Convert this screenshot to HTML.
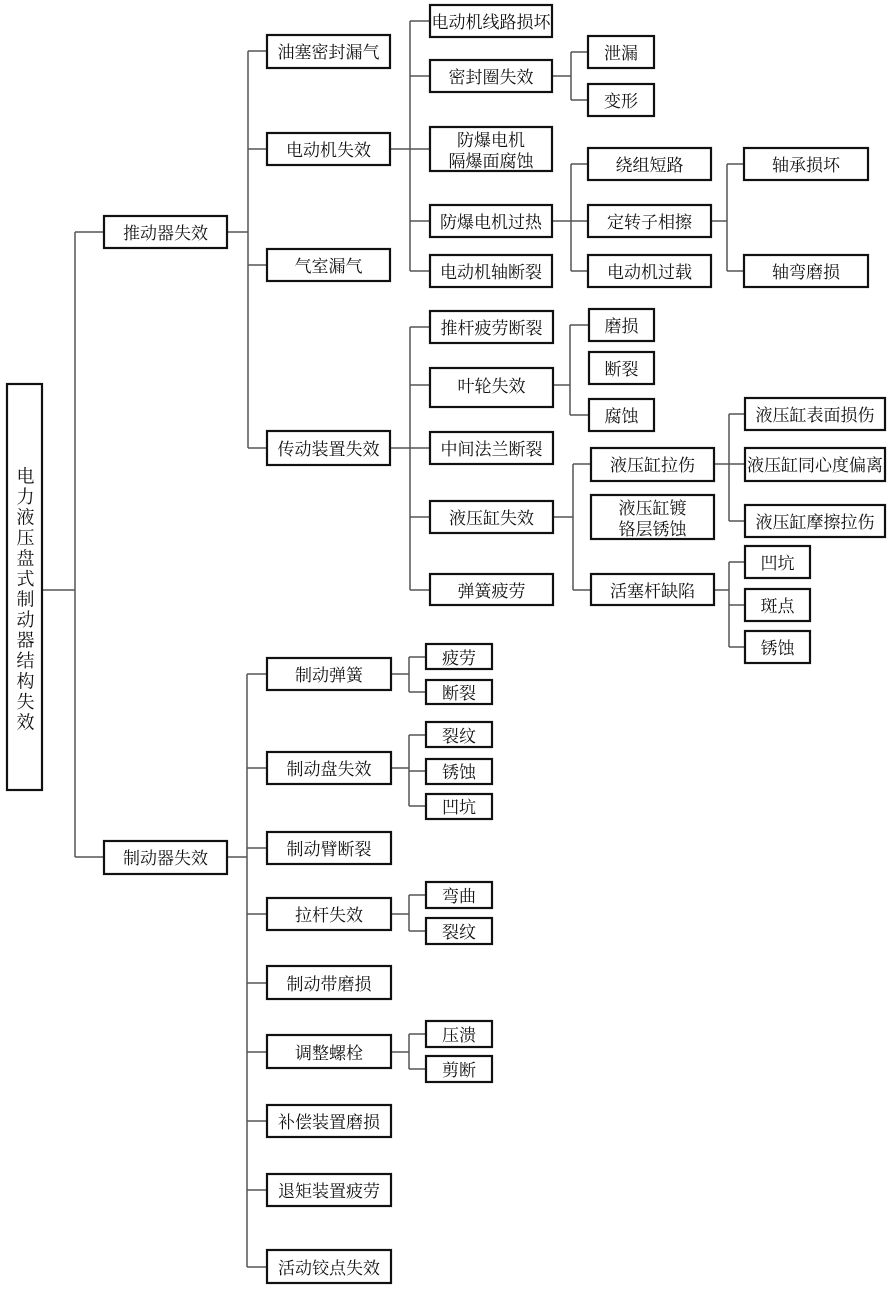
<!DOCTYPE html>
<html><head><meta charset="utf-8"><style>
html,body{margin:0;padding:0;background:#fff}
svg{display:block}
text{font-family:"Liberation Serif","Noto Serif CJK SC",serif;font-size:17px;fill:#111;text-anchor:middle;dominant-baseline:central;transform:translateY(1.5px)}
rect{fill:#fff;stroke:#111;stroke-width:2.2}
path{fill:none;stroke:#555;stroke-width:1.5}
</style></head><body>
<svg width="890" height="1289" viewBox="0 0 890 1289" xmlns="http://www.w3.org/2000/svg">
<path d="M42 590H75M75 232V857M75 232H104M75 857H104"/>
<path d="M227 232H248M248 51V448M248 51H267M248 149H267M248 265H267M248 448H267"/>
<path d="M390 149H410M410 21V271M410 21H430M410 76H430M410 149H430M410 221H430M410 271H430"/>
<path d="M552 76H571M571 52V100M571 52H588M571 100H588"/>
<path d="M552 221H571M571 164V271M571 164H588M571 221H588M571 271H588"/>
<path d="M711 221H727M727 164V271M727 164H744M727 271H744"/>
<path d="M390 448H410M410 327V590M410 327H430M410 385H430M410 448H430M410 517H430M410 590H430"/>
<path d="M553 385H570M570 325V415M570 325H589M570 415H589"/>
<path d="M553 517H573M573 464V590M573 464H591M573 590H591"/>
<path d="M714 464H729M729 414V521M729 414H745M729 464H745M729 521H745"/>
<path d="M714 590H729M729 562V647M729 562H745M729 605H745M729 647H745"/>
<path d="M227 857H247M247 674V1267M247 674H267M247 768H267M247 848H267M247 914H267M247 983H267M247 1052H267M247 1121H267M247 1190H267M247 1267H267"/>
<path d="M391 674H409M409 657V692M409 657H426M409 692H426"/>
<path d="M391 768H409M409 735V806M409 735H426M409 771H426M409 806H426"/>
<path d="M391 914H409M409 895V931M409 895H426M409 931H426"/>
<path d="M391 1052H409M409 1034V1069M409 1034H426M409 1069H426"/>
<rect x="7" y="384" width="35" height="406"/>
<text x="24.5" y="600" style="writing-mode:vertical-rl;glyph-orientation-vertical:0;letter-spacing:2.5px;font-size:18px;transform:none">电力液压盘式制动器结构失效</text>
<rect x="104" y="216" width="123" height="32"/><text x="165.5" y="232">推动器失效</text>
<rect x="104" y="841" width="123" height="33"/><text x="165.5" y="857">制动器失效</text>
<rect x="267" y="35" width="123" height="33"/><text x="328.5" y="51">油塞密封漏气</text>
<rect x="267" y="133" width="123" height="32"/><text x="328.5" y="149">电动机失效</text>
<rect x="267" y="249" width="123" height="32"/><text x="328.5" y="265">气室漏气</text>
<rect x="267" y="431" width="123" height="34"/><text x="328.5" y="448">传动装置失效</text>
<rect x="430" y="5" width="122" height="32"/><text x="491" y="21">电动机线路损坏</text>
<rect x="430" y="60" width="122" height="32"/><text x="491" y="76">密封圈失效</text>
<rect x="430" y="127" width="122" height="44"/><text x="491" y="139">防爆电机</text><text x="491" y="160">隔爆面腐蚀</text>
<rect x="430" y="205" width="122" height="32"/><text x="491" y="221">防爆电机过热</text>
<rect x="430" y="255" width="122" height="32"/><text x="491" y="271">电动机轴断裂</text>
<rect x="588" y="36" width="66" height="32"/><text x="621" y="52">泄漏</text>
<rect x="588" y="84" width="66" height="32"/><text x="621" y="100">变形</text>
<rect x="588" y="148" width="123" height="32"/><text x="649.5" y="164">绕组短路</text>
<rect x="588" y="205" width="123" height="32"/><text x="649.5" y="221">定转子相擦</text>
<rect x="588" y="255" width="123" height="32"/><text x="649.5" y="271">电动机过载</text>
<rect x="744" y="148" width="124" height="32"/><text x="806" y="164">轴承损坏</text>
<rect x="744" y="255" width="124" height="32"/><text x="806" y="271">轴弯磨损</text>
<rect x="430" y="311" width="123" height="32"/><text x="491.5" y="327">推杆疲劳断裂</text>
<rect x="430" y="368" width="123" height="39"/><text x="491.5" y="385">叶轮失效</text>
<rect x="430" y="432" width="123" height="32"/><text x="491.5" y="448">中间法兰断裂</text>
<rect x="430" y="501" width="123" height="32"/><text x="491.5" y="517">液压缸失效</text>
<rect x="430" y="574" width="123" height="31"/><text x="491.5" y="590">弹簧疲劳</text>
<rect x="589" y="309" width="65" height="32"/><text x="621.5" y="325">磨损</text>
<rect x="589" y="352" width="65" height="32"/><text x="621.5" y="368">断裂</text>
<rect x="589" y="399" width="65" height="32"/><text x="621.5" y="415">腐蚀</text>
<rect x="591" y="448" width="123" height="33"/><text x="652.5" y="464">液压缸拉伤</text>
<rect x="591" y="495" width="123" height="44"/><text x="652.5" y="507">液压缸镀</text><text x="652.5" y="528">铬层锈蚀</text>
<rect x="591" y="574" width="123" height="31"/><text x="652.5" y="590">活塞杆缺陷</text>
<rect x="745" y="398" width="140" height="32"/><text x="815" y="414">液压缸表面损伤</text>
<rect x="745" y="448" width="140" height="33"/><text x="815" y="464">液压缸同心度偏离</text>
<rect x="745" y="505" width="140" height="32"/><text x="815" y="521">液压缸摩擦拉伤</text>
<rect x="745" y="546" width="65" height="32"/><text x="777.5" y="562">凹坑</text>
<rect x="745" y="589" width="65" height="32"/><text x="777.5" y="605">斑点</text>
<rect x="745" y="631" width="65" height="32"/><text x="777.5" y="647">锈蚀</text>
<rect x="267" y="658" width="124" height="32"/><text x="329" y="674">制动弹簧</text>
<rect x="267" y="752" width="124" height="32"/><text x="329" y="768">制动盘失效</text>
<rect x="267" y="832" width="124" height="32"/><text x="329" y="848">制动臂断裂</text>
<rect x="267" y="898" width="124" height="32"/><text x="329" y="914">拉杆失效</text>
<rect x="267" y="966" width="124" height="33"/><text x="329" y="983">制动带磨损</text>
<rect x="267" y="1035" width="124" height="33"/><text x="329" y="1052">调整螺栓</text>
<rect x="267" y="1105" width="124" height="32"/><text x="329" y="1121">补偿装置磨损</text>
<rect x="267" y="1174" width="124" height="32"/><text x="329" y="1190">退矩装置疲劳</text>
<rect x="267" y="1250" width="124" height="33"/><text x="329" y="1267">活动铰点失效</text>
<rect x="426" y="644" width="66" height="25"/><text x="459" y="657">疲劳</text>
<rect x="426" y="680" width="66" height="24"/><text x="459" y="692">断裂</text>
<rect x="426" y="722" width="66" height="25"/><text x="459" y="735">裂纹</text>
<rect x="426" y="759" width="66" height="25"/><text x="459" y="771">锈蚀</text>
<rect x="426" y="794" width="66" height="25"/><text x="459" y="806">凹坑</text>
<rect x="426" y="882" width="66" height="26"/><text x="459" y="895">弯曲</text>
<rect x="426" y="918" width="66" height="26"/><text x="459" y="931">裂纹</text>
<rect x="426" y="1021" width="66" height="26"/><text x="459" y="1034">压溃</text>
<rect x="426" y="1056" width="66" height="26"/><text x="459" y="1069">剪断</text>
</svg>
</body></html>
